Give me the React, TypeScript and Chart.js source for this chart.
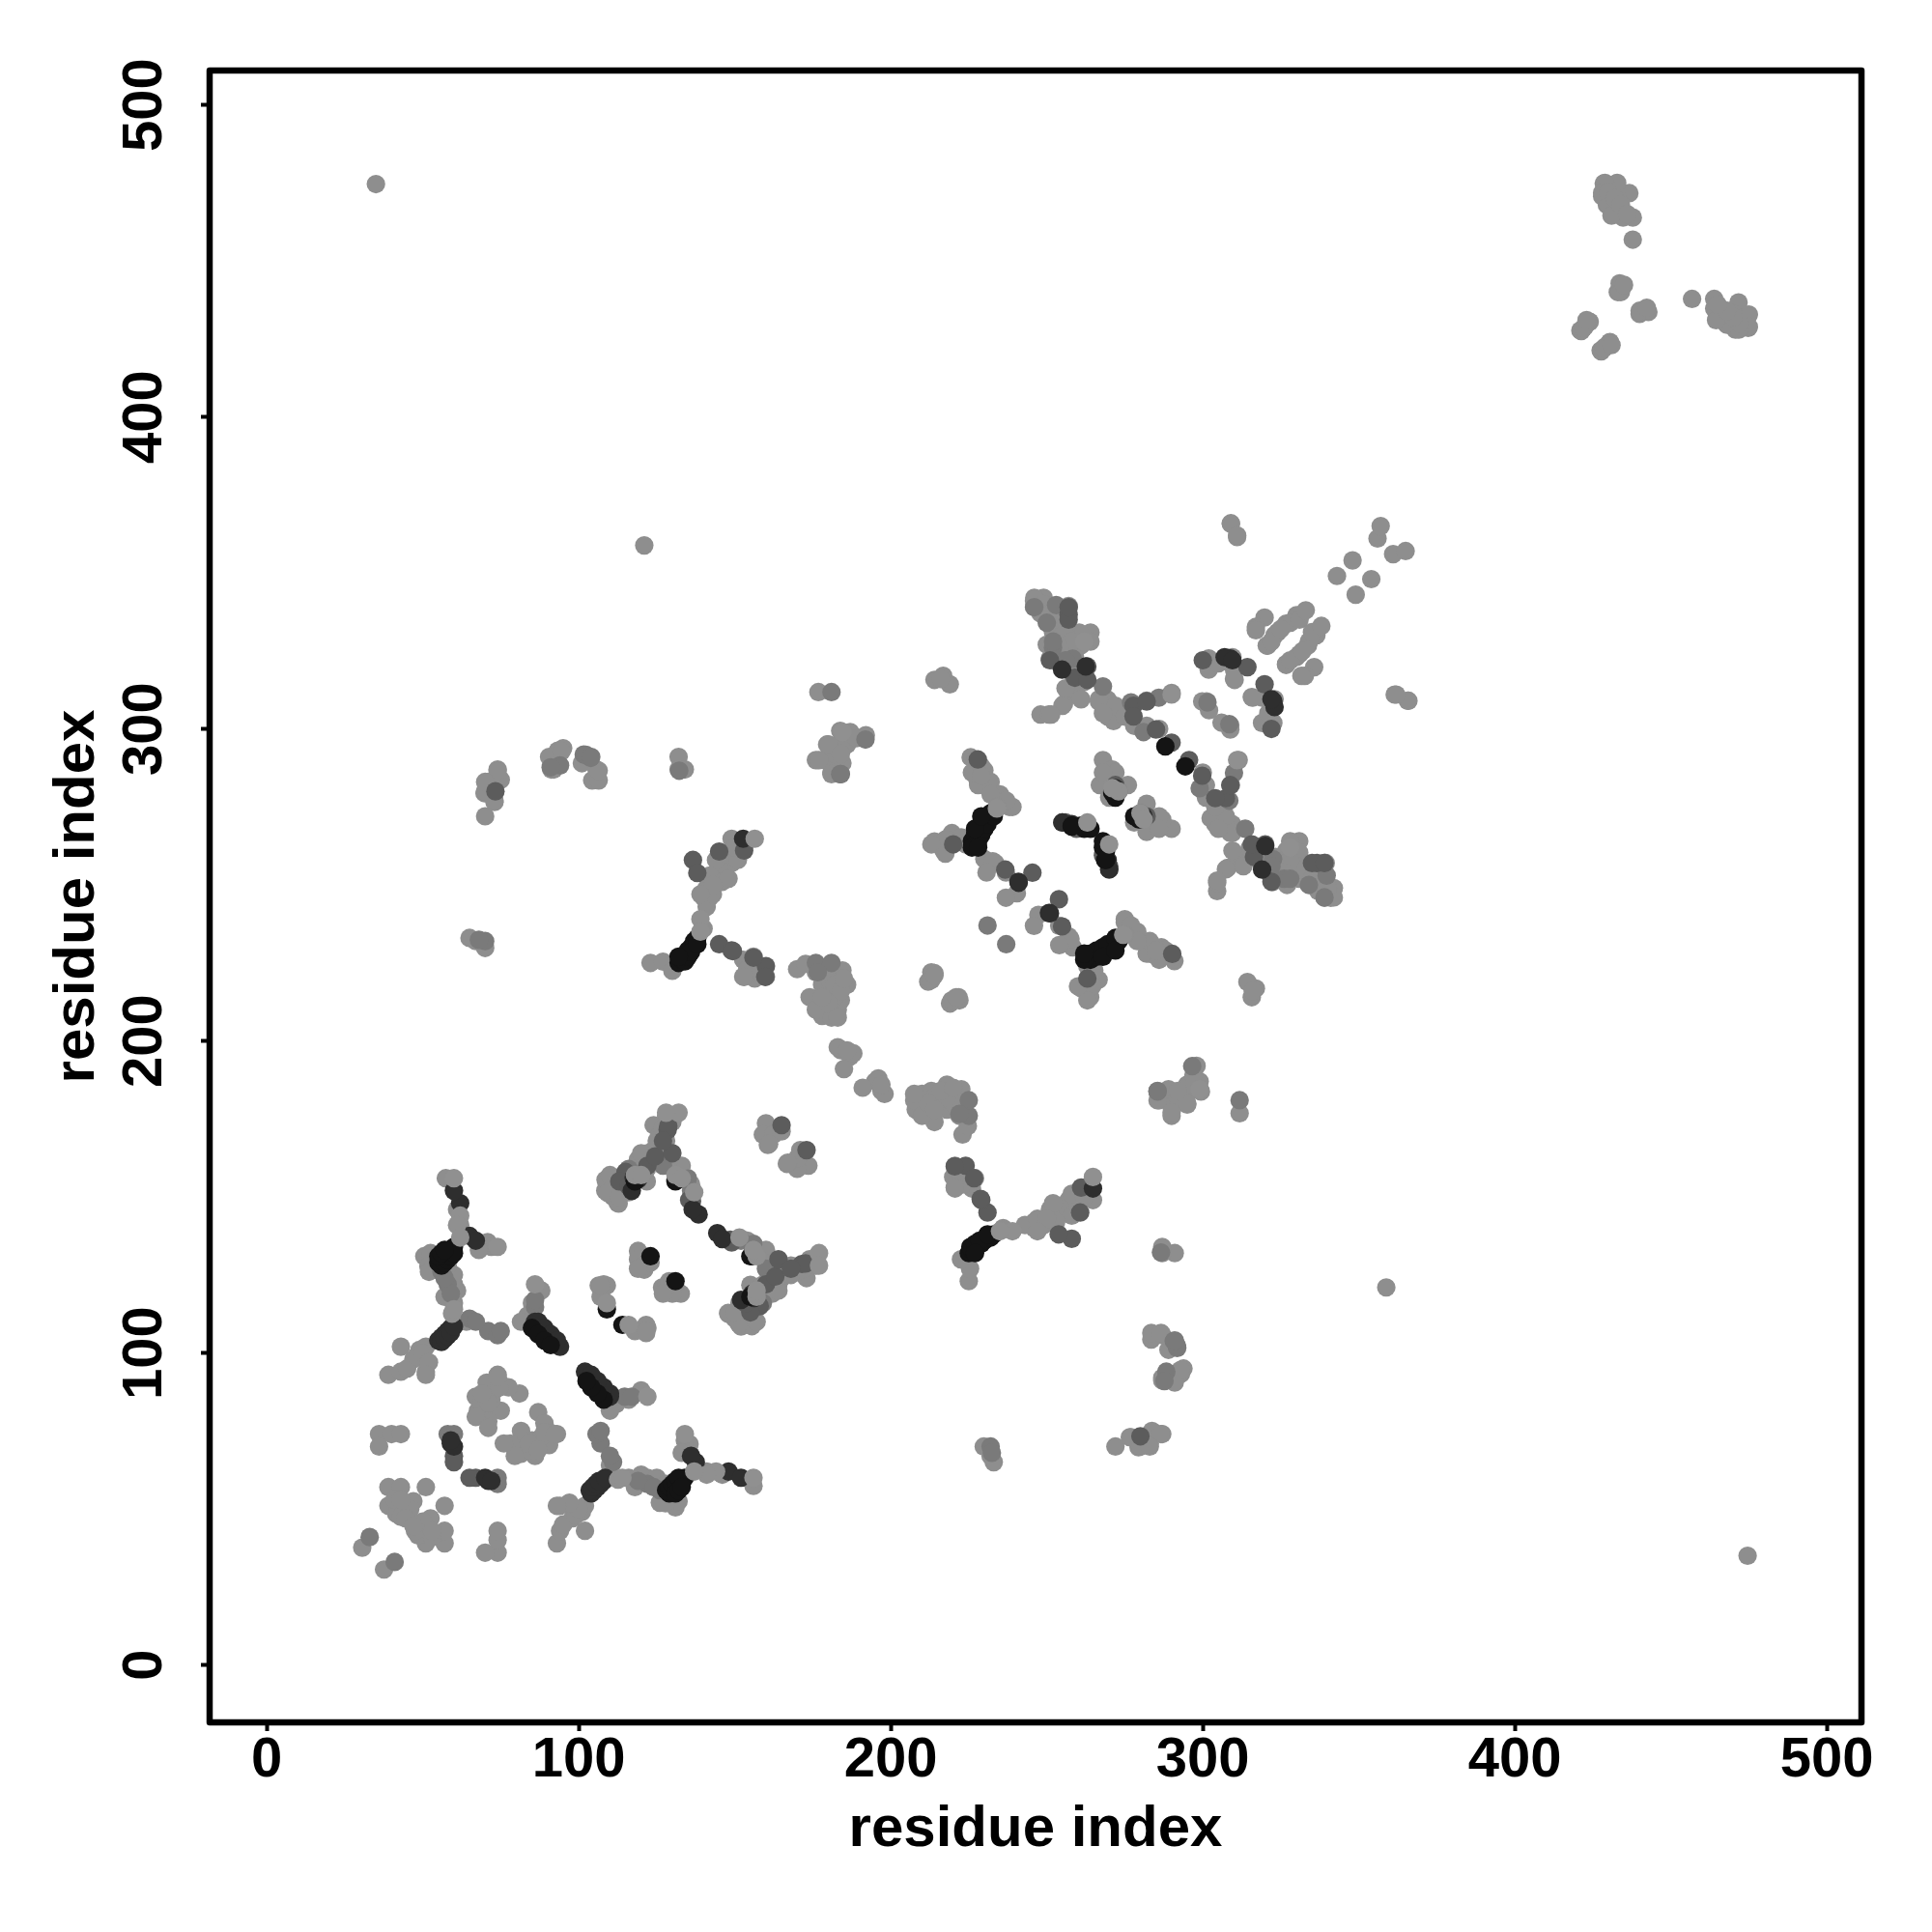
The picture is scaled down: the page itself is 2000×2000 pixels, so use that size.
import React, { useEffect, useRef } from "react";
import { Chart, registerables } from "chart.js";

Chart.register(...registerables);

// Contacts are read as [residue i, residue j] with i < j; the map is symmetric, so each is shown at (i,j) and (j,i).
const lightContacts: number[][] = [
  [35,474.6],[121,358.8],[30.6,37.6],[39,57],[43,57],[51,57],[39,51],[41.5,48.5],[44,51],[47,52.5],[42,50],[45,49],[41,53],[43,47.5],[46,50],[43,53],[44.5,47],
  [36,74],[40,74],[43,74],[36,70],[67,86],[70.5,90.5],[74,93],[75,90],[81,87],[77.5,89],[67.7,81.5],[72,82],[75,81.5],[71,78],[68.4,80],[70.5,86],[72,85],[69,84],[73,88],[67,79.5],[71,84],[71,76],[74.6,89],[74,92.3],[69,87],
  [43,102],[39,93],[43,94],[51,94],[49,101],[47,98],[51,102],[45,95],[48,99],[50,100],[52,97],[51,93],
  [50.5,131],[52.5,132],[51.8,127.8],[52,126],[57.4,156],[70.8,135.5],[72,134],[68,133],[64,110],[60,116],[88,120],[85,116],[83.6,112],[81.5,110],[57,118],[60,122],[61,120],[60,125],[58,128],[62,141],[61,146],
  [108,122],[106.4,121.6],[107,118],[109,121.6],[107,121.6],[119,132.7],[121,126.7],[119,130],[121,128],[123,129],[119,127],
  [109,154],[108.5,152],[112.5,148],[116,151.5],[119,162],[124,165],[124,173],[128.5,164.6],[128,168],[125,162],[111,150],[114,152],[121,160],[126,170],[130,174],[122,164],[118,157],[133,160],[135,156],[136,154],[132.8,159.7],[128,176],[128.7,161],[121.8,155],[121.8,158.9],[108.6,155.5],[112.8,147.9],[109.3,151.3],[112.8,154.8],[110,157],[113,150],[116,156],[120,164],[125,168],[127,172],
  [160,173.6],[159,170],[162.4,170],[160.6,166.7],[165,171],[161,167],
  [170,223],[172.7,224.7],[174,214],[184.5,222.6],[186,218],[178,218],[178,211.6],[178,208],[183,210],[184,213],[182,214],[176,222],[180,220],[182,218],[181,207.5],[176,210],[184,216],[180,212],[178,214],[185,220],[183,207.5],
  [184,197],[183,198],[187,195],[185,191],[188,196],[186,197],[67,232],[65,233],[70,229.8],[123,225],[127,225.4],[130,222.5],
  [140,236],[140,246],[142,246],[141,243],[141,249],[143,247],[145,252],[147,255],[149,257],[149,264.8],[145,256],[153,262],[152.7,226],[156,227],[152.7,220.6],[156.4,220],[160,220.6],[154,223],[158,222],[153,220.5],[144,258],[147,260],[142,253],[146,251],[151,258],[148,252],[143,250],[139,247],[150,262],
  [70,272],[74,287],[71,283],[74.6,284],[69.8,279.4],[73,276.6],[93.3,293],[90.5,291],[91.2,287],[92,287],[95,293.8],[94.5,292.8],[101,289],[105.7,287],[104.3,283.5],[106.4,283.5],[106.4,286.6],
  [132,291],[132,287],[134,287],[176,290],[181,286],[183.8,285.5],[184.5,289],[179.6,295],[183.8,299.4],[186.5,297],[183.8,294],[192,298],[187,299],[179,290],[182,292],[177,290],[181,285.5],[184,296],[186,295],[180,295],[184,292],[189,297],
  [176.8,311.8],[214,315.7],[216.8,317],[218.9,314.3],[216,316],
  [245.9,341],[248.6,341.8],[245.9,339],[250.7,337],[257,339.4],[264,330.9],[260.4,330.9],[256,332.3],[252,326],[259,322],[256,326.8],[261,326.8],[259,311],[255.5,308],[248,304.6],[250.7,304.6],[259,323.2],[261.8,315],[266.7,308.8],[269.5,309.4],[272,306.7],[269.5,304],[290,311.5],[278,301],[254,330],[262,328],[258,318],[256,313],
  [282,301],[286,300],[271.4,302.5],[272,307.4],[266.7,309.5],[261,309.5],[255,307.4],[251.4,304.6],[249,342],[246,342],[251,322.5],[256,330],[257,326.6],[257,339],[255,323],[264,328],[252,331],[255,336],[250,327],[253,332],[249,340],[248,337],[255,330],[258,328],[254,326],[252,335],[268,305],[275,304],
  [225.6,290.9],[230,286.7],[227.9,283.2],[230.2,283],[233,279],[238,275],[236,277],[214,263.9],[216.9,261],[219.6,266.6],[222.6,265.2],[217.6,264.6],[233.5,257],[230,258.3],[240.4,247.3],[236.9,245.9],[239,275],[234,278],[227,290],[213,263],[217.5,260],[224,263],[228,282],[226,286],[236.9,254],[232.7,257.6],[230.7,254],[229,288],[232,283],[235,279],[237,277],[232,279],[229,285],[234,275],
  [214,221.7],[212,219],[213,222],[213,219.5],[214,221],
  [268,290],[271,287],[267,282],[270,278],[276,282],[272,286],[268,286],
  [301.9,322.6],[301.9,319],[309.5,323],[310,319],[310.2,315.7],[301.2,308.8],[299.8,308.8],[302,306],[310,316],[308,322.5],[305,321],
  [319.8,335.7],[317,332.7],[320.8,326.7],[323,330],[326.7,333.7],[330,336.4],[328,334],[324,331],[320.5,326.7],[317,331.6],[322,328],[325,332],[331,335],[333,338],
  [348,354],[343,349],[356,361],[357,365],[311,361.5],[309,365.7],[309,365.9],[311,362],
  [428.5,474.8],[432.6,474.8],[428,470.7],[429.5,468],[436.7,471.7],[434.7,463.9],[437.8,463.9],[437.8,456.8],[433,440],[433.6,442.8],[434,440],[435,442.3],[423.8,430.4],[421.3,427.5],[424,430.5],[421,427.7],[432.8,475],[428.9,475],[428,471.8],[430,467.7],[433,470],[431,464.5],[430,472],[432,470],[434,468],[436,465],[422.5,429],[422,428.5],[423,431],
  [73,277],[75,283.7],[74,286.6],[70,280],[70,283],
];

const midContacts: number[][] = [
  [33,41],[58,74],[60,74],[86,114.7],[71,107],[74,105.7],[75,107],[65,111],[67,110],[56,126],[58,122],[59,119],[57,124],[86,117],[176,225],[181,225],[176.6,222],[191.9,296.6],[70,232],[68,232.4],[94,288.3],[101.6,291.8],[103.8,290.7],[102.3,291.7],[104,291],[91,287.7],[181,311.8],[253,339.7],[277,308.5],[282,309],[273,280],[263,269],[258.3,322.5],[285.9,310],[281,299],[268,313.6],[231,237],[136,152],[134.9,155.9],[127,160],[116,159],[246,339],[252,322],[252,326],[308.5,301.5],[285.5,183.8],[184,285.5],[132.2,286.6],[250,334],[256,322],[252,328],
];

const dimContacts: number[][] = [
  [60,67],[60,65],[115,158],[128.5,171.5],[113,155],[122,160],[116,153.4],[124.5,163],[128.7,172.7],[136.6,258],[138,253.8],[145,260.7],[145,231],[149,229],[160,224],[156,226.7],[149.4,228.8],[165,173],[73.3,280],[255,270],[256,270],[245.4,253.9],[236.7,254.9],[257,336.6],[263,320],[259,316.4],[285,299.8],[290,295.6],[257,335],[263,315.7],[314.3,319.8],[227.9,290.2],[220.5,159.8],[220,263],[136.3,148.6],[135.4,149],[153,261],[257,339],[277.8,307.4],[277.8,304],[282,308.8],[268,259.5],[272,282],[271,280],[251,322],[130,164],[127,168],[300,322],
];

const darkContacts: number[][] = [
  [59,71],[60,70],[59,72],[65,137.5],[67,136],[62,148],[60,152],[86,110],[88,108],[90,106],[92,104],[94,102],[87,110],[89,108],[91,106],[93,104],[55,104],[56,105],[57,106],[58,107],[59,108],[56,103.5],[57,104.5],[58,105.5],[59,106.5],[60,108.5],
  [138.4,144.4],[136.5,146],[117,152],[119,155.6],[152.7,264.8],[117.6,156.2],[131,155.6],[241,250.7],[262.5,320],[308.8,322.6],[307,323],[254.9,319],[240.9,251],[258,269.5],[270,255],[272,281],[309.5,322],
];

const blackContacts: number[][] = [
  [55,129],[56,130],[57,131],[58,132],[59,133],[60,134],[56,128],[57,129],[58,130],[59,131],[60,132],[55,131],[56,132],[57,133],
  [85,108],[87,106],[89,104],[91,102.5],[109,114],[123,131],[131,155],[118,155],
  [132,225],[133,226],[134,227.5],[135,229],[136,230],[137,232],[138,233],[134,225.5],[135,227],[136,228.5],[138,231],[132,227],
  [226,264],[227,266],[228,267],[229,269],[230,270],[231,271],[232,273],[228,264],[229,266],[230,268],[231,269.5],[233,272],[226,262],[228,262],[227,268],[229,272],
  [288,294.4],[258,269],[261,269],[262,268],[258,268.7],[264,268],[272,278],[271,279.5],
];

const overlayContacts: number[][] = [
  [60,156],[62,144],[61,141],[62,137],[59.4,112.6],[109,116],[74,134],[137,151.5],[156.4,264.8],[290,311],[132,177],[128,177],[139,239],[86,122],[60,114],[262,328],[299,184.5],
  [118,157],[120,157],[131,157],[133,156],[273,280],[271,281],[263,270],[234,274.5],[139,235],
];

const tickValues = [0, 100, 200, 300, 400, 500];
const axisTitle = "residue index";

const mirrored = (pairs: number[][]) =>
  pairs.flatMap(([a, b]) => [{ x: a, y: b }, { x: b, y: a }]);

const tiers: [number[][], string][] = [
  [overlayContacts, "#909090"],
  [blackContacts, "#141414"],
  [darkContacts, "#2e2e2e"],
  [dimContacts, "#5c5c5c"],
  [midContacts, "#7a7a7a"],
  [lightContacts, "#8e8e8e"],
];

const FONT = "'Liberation Sans', Arial, sans-serif";

const frame = {
  id: "frame",
  afterDatasetsDraw(chart: any) {
    const { ctx, chartArea: a } = chart;
    ctx.save();
    ctx.strokeStyle = "#000";
    ctx.lineWidth = 6.5;
    ctx.lineJoin = "round";
    ctx.strokeRect(a.left, a.top, a.right - a.left, a.bottom - a.top);
    ctx.restore();
  },
};

export default function App() {
  const ref = useRef<HTMLCanvasElement>(null);
  useEffect(() => {
    const makeAxis = (isX: boolean) => ({
      type: "linear",
      min: isX ? -18.3 : -18.4,
      max: isX ? 511.1 : 511,
      afterBuildTicks: (s: any) => {
        s.ticks = tickValues.map((value) => ({ value }));
      },
      afterFit: (s: any) => {
        if (isX) s.height = 217;
        else s.width = 217;
      },
      grid: { drawOnChartArea: false, drawTicks: true, tickLength: 9, tickWidth: 4, tickColor: "#000" },
      border: { display: false },
      ticks: {
        color: "#000",
        autoSkip: false,
        padding: isX ? 2 : 9,
        font: { family: FONT, size: 58, weight: "bold", lineHeight: 1 },
        ...(isX ? { maxRotation: 0, minRotation: 0 } : { maxRotation: 90, minRotation: 90, crossAlign: "center" }),
      },
      title: {
        display: true,
        text: axisTitle,
        color: "#000",
        font: { family: FONT, size: 60, weight: "bold", lineHeight: 1 },
        padding: isX ? { top: 0, bottom: 76 } : { top: 50, bottom: 0 },
      },
    });
    const chart = new Chart(ref.current!, {
      type: "scatter",
      data: {
        datasets: tiers.map(([pairs, color]) => ({
          data: mirrored(pairs),
          backgroundColor: color,
          borderWidth: 0,
          pointRadius: 9.6,
        })),
      },
      options: {
        animation: false,
        responsive: false,
        devicePixelRatio: 1,
        layout: { padding: { top: 73, right: 73, left: 0, bottom: 0 } },
        plugins: { legend: { display: false }, tooltip: { enabled: false } },
        scales: { x: makeAxis(true), y: makeAxis(false) },
      } as any,
      plugins: [frame],
    } as any);
    return () => chart.destroy();
  }, []);
  return (
    <div style={{ position: "absolute", left: 0, top: 0, width: 2000, height: 2000, background: "#fff" }}>
      <canvas ref={ref} width={2000} height={2000} style={{ display: "block" }} />
    </div>
  );
}
